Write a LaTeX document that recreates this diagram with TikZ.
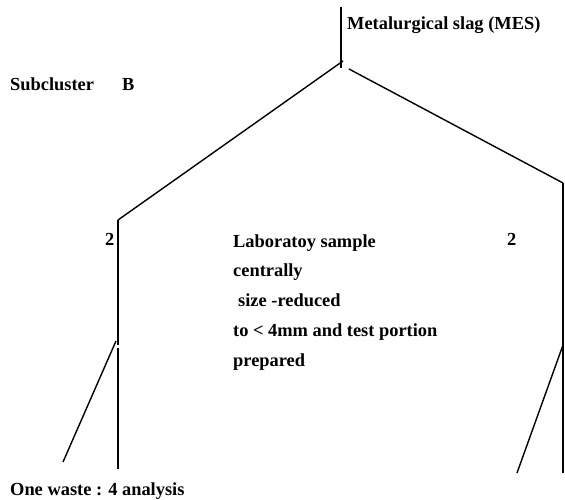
\documentclass[tikz,border=0pt]{standalone}
\usepackage{fontspec}
\setmainfont{Liberation Serif}
\usetikzlibrary{positioning}

\begin{document}
\begin{tikzpicture}[x=1pt, y=-1pt,
  lbl/.style={font=\fontsize{18.4}{29.75}\selectfont\bfseries, inner sep=0pt, anchor=base west},
  branch/.style={line width=1.4pt},
]
  \useasboundingbox (0,0) rectangle (565,500);

  % labels
  \node[lbl] (mes) at (347,30) {Metalurgical slag (MES)};
  \node[lbl] (sub) at (10,91) {Subcluster\hspace*{28pt}B};
  \node[lbl] (numL) at (105,245) {2};
  \node[lbl] (numR) at (507,245) {2};
  \node[lbl, align=left] (lab) at (233,366) {Laboratoy sample\\centrally\\\hspace*{5pt}size -reduced\\to < 4mm and test portion\\prepared};
  \node[lbl] (waste) at (10,495) {One waste : 4 analysis};

  % tree points
  \coordinate (mesTop) at (341,7);
  \coordinate (mesBot) at (341,68);
  \coordinate (forkL) at (343,61);
  \coordinate (forkR) at (349,69);
  \coordinate (leftTop) at (118,220);
  \coordinate (leftMid) at (118,345);
  \coordinate (leftSplit) at (116,341);
  \coordinate (leftLow) at (118,348);
  \coordinate (leftBot) at (118,469);
  \coordinate (wasteEnd) at (63,462);
  \coordinate (rightTop) at (563,183);
  \coordinate (rightSplit) at (563,345);
  \coordinate (rightBot) at (563,473);
  \coordinate (rightEnd) at (517,473);

  % lines
  \draw[branch] (mesTop) -- (mesBot);
  \draw[branch] (forkL) -- (leftTop);
  \draw[branch] (forkR) -- (rightTop);
  \draw[branch] (leftTop) -- (leftMid);
  \draw[branch] (leftLow) -- (leftBot);
  \draw[branch] (leftSplit) -- (wasteEnd);
  \draw[branch] (rightTop) -- (rightBot);
  \draw[branch] (rightSplit) -- (rightEnd);
\end{tikzpicture}
\end{document}
